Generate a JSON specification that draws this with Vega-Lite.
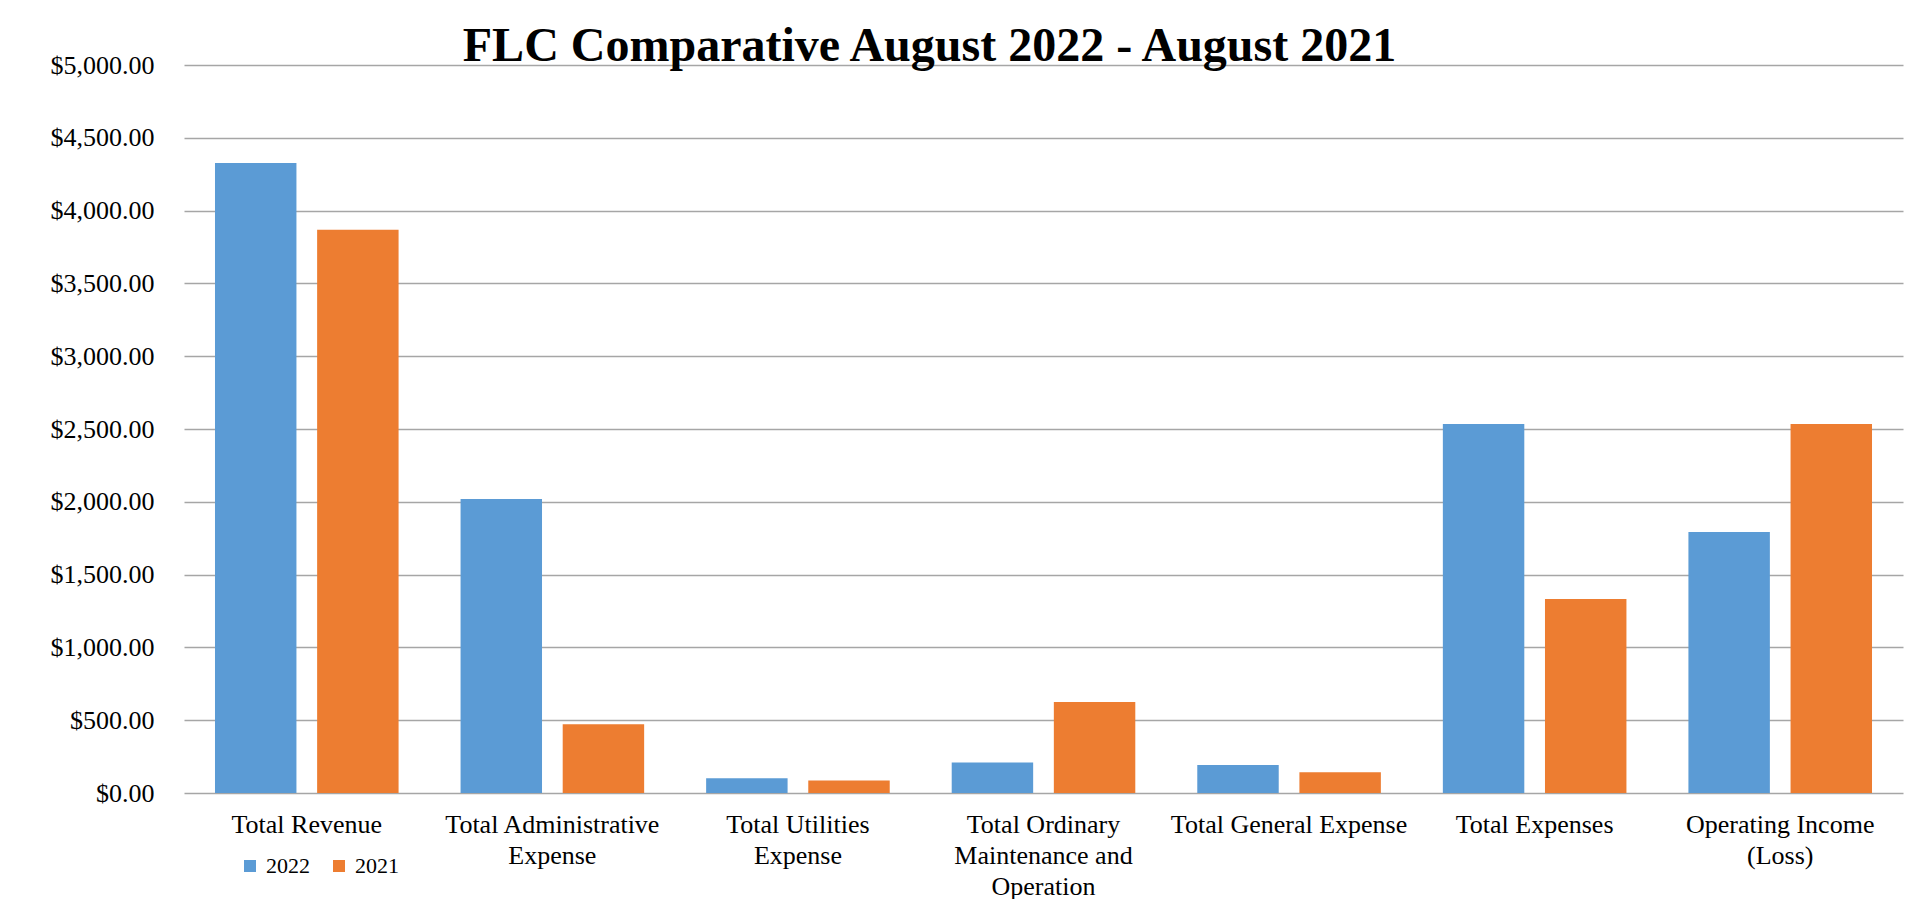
{
  "$schema": "https://vega.github.io/schema/vega-lite/v6.json",
  "width": 1719,
  "height": 728,
  "autosize": {"type": "none"},
  "padding": {"left": 184, "top": 65, "right": 13, "bottom": 106},
  "background": "white",
  "title": {
    "text": "FLC Comparative August 2022 - August 2021",
    "font": "Liberation Serif",
    "fontSize": 48,
    "fontWeight": "bold",
    "color": "black",
    "anchor": "middle",
    "frame": "group",
    "dx": -114,
    "dy": 61,
    "baseline": "alphabetic",
    "offset": 4
  },
  "data": {
    "values": [
      {"category": "Total Revenue", "year": "2022", "amount": 4327},
      {"category": "Total Revenue", "year": "2021", "amount": 3869},
      {"category": "Total Administrative Expense", "year": "2022", "amount": 2020},
      {"category": "Total Administrative Expense", "year": "2021", "amount": 472},
      {"category": "Total Utilities Expense", "year": "2022", "amount": 101},
      {"category": "Total Utilities Expense", "year": "2021", "amount": 85},
      {"category": "Total Ordinary Maintenance and Operation", "year": "2022", "amount": 209},
      {"category": "Total Ordinary Maintenance and Operation", "year": "2021", "amount": 625},
      {"category": "Total General Expense", "year": "2022", "amount": 192},
      {"category": "Total General Expense", "year": "2021", "amount": 142},
      {"category": "Total Expenses", "year": "2022", "amount": 2534},
      {"category": "Total Expenses", "year": "2021", "amount": 1332},
      {"category": "Operating Income (Loss)", "year": "2022", "amount": 1793},
      {"category": "Operating Income (Loss)", "year": "2021", "amount": 2534}
    ]
  },
  "mark": {"type": "bar"},
  "encoding": {
    "x": {
      "field": "category",
      "type": "nominal",
      "sort": null,
      "scale": {"paddingInner": 0.2524, "paddingOuter": 0.1262},
      "axis": {
        "title": null,
        "labelAngle": 0,
        "domain": false,
        "ticks": false,
        "labelFont": "Liberation Serif",
        "labelFontSize": 26,
        "labelColor": "black",
        "labelPadding": 18,
        "labelLineHeight": 31,
        "labelBaseline": "top",
        "labelLimit": 500,
        "labelExpr": "datum.label == 'Total Administrative Expense' ? ['Total Administrative', 'Expense'] : datum.label == 'Total Utilities Expense' ? ['Total Utilities', 'Expense'] : datum.label == 'Total Ordinary Maintenance and Operation' ? ['Total Ordinary', 'Maintenance and', 'Operation'] : datum.label == 'Operating Income (Loss)' ? ['Operating Income', '(Loss)'] : datum.label"
      }
    },
    "xOffset": {
      "field": "year",
      "type": "nominal",
      "sort": ["2022", "2021"],
      "scale": {"paddingInner": 0.2025, "paddingOuter": 0}
    },
    "y": {
      "field": "amount",
      "type": "quantitative",
      "scale": {"domain": [0, 5000], "nice": false},
      "axis": {
        "title": null,
        "values": [0, 500, 1000, 1500, 2000, 2500, 3000, 3500, 4000, 4500, 5000],
        "format": "$,.2f",
        "domain": false,
        "ticks": false,
        "labelPadding": 30,
        "labelFont": "Liberation Serif",
        "labelFontSize": 26,
        "labelColor": "black",
        "gridColor": "#a6a6a6",
        "gridWidth": 1.3
      }
    },
    "color": {
      "field": "year",
      "type": "nominal",
      "sort": ["2022", "2021"],
      "scale": {"domain": ["2022", "2021"], "range": ["#5B9BD5", "#ED7D31"]},
      "legend": {
        "orient": "none",
        "legendX": 55,
        "legendY": 790,
        "direction": "horizontal",
        "title": null,
        "padding": 0,
        "symbolType": "square",
        "symbolSize": 144,
        "symbolStrokeWidth": 0,
        "labelFont": "Liberation Serif",
        "labelFontSize": 22,
        "labelColor": "black",
        "labelOffset": 5,
        "columnPadding": 18
      }
    }
  },
  "config": {"view": {"stroke": null}}
}
